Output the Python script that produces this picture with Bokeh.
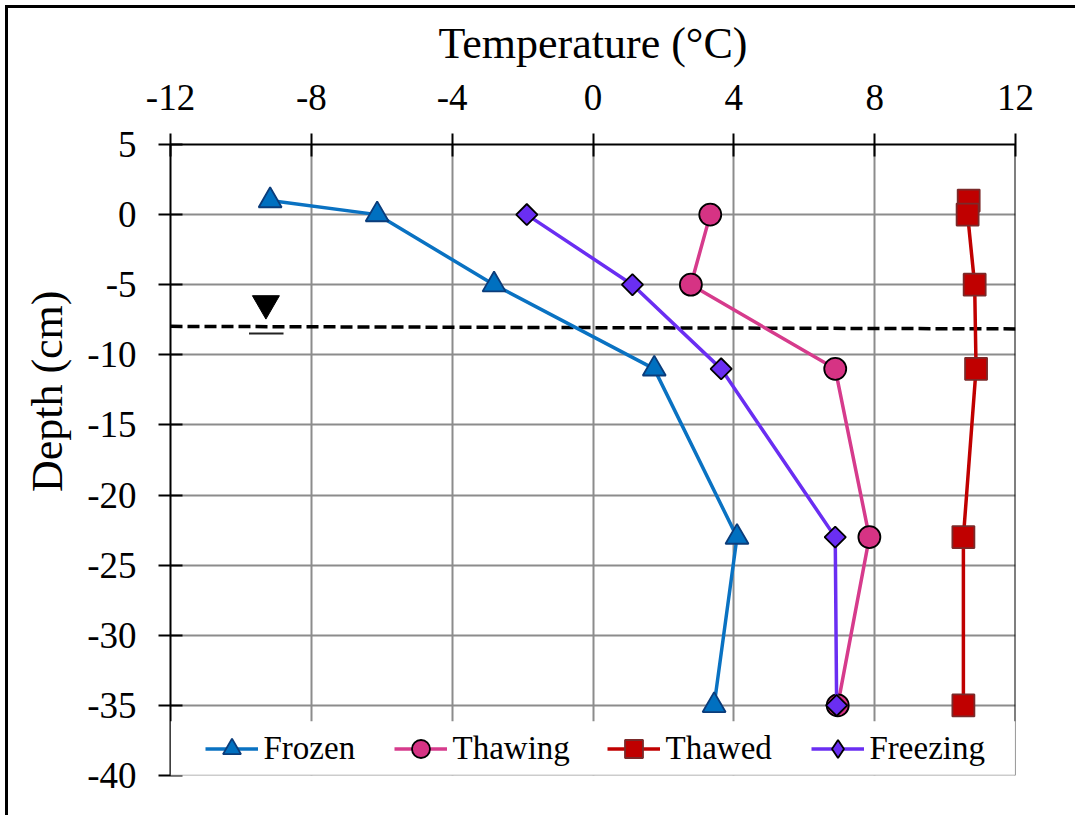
import math

from bokeh.embed import file_html
from bokeh.models import (BoxAnnotation, CustomJSTickFormatter, FixedTicker, Legend,
                          LegendItem, Range1d, Span, Title)
from bokeh.plotting import figure
from bokeh.resources import INLINE

# Soil temperature profiles: temperature (°C) against depth (cm)
frozen_depth = [1, 0, -5, -11, -23, -35]
frozen_temp = [-9.17, -6.13, -2.81, 1.74, 4.09, 3.44]

thawing_depth = [0, -5, -11, -23, -35]
thawing_temp = [3.33, 2.78, 6.88, 7.85, 6.95]

thawed_depth = [1, 0, -5, -11, -23, -35]
thawed_temp = [10.67, 10.64, 10.84, 10.88, 10.52, 10.52]

freezing_depth = [0, -5, -11, -23, -35]
freezing_temp = [-1.88, 1.12, 3.64, 6.88, 6.92]

# Water table level and its symbol
water_table_temp = [-12, 12]
water_table_depth = [-7.97, -8.15]
wt_symbol_temp = [-9.29]
wt_symbol_depth = [-6.34]
wt_bar_temp = [-9.77, -8.79]
wt_bar_depth = [-8.48, -8.48]

x_ticks = [-12, -8, -4, 0, 4, 8, 12]
y_ticks = [5, 0, -5, -10, -15, -20, -25, -30, -35, -40]

FONT = "Liberation Serif"

p = figure(
    width=1070, height=810,
    output_backend="svg", toolbar_location=None,
    x_range=Range1d(-12, 12), y_range=Range1d(-40, 5),
    x_axis_location="above",
    min_border_left=162, min_border_right=63,
    min_border_top=136, min_border_bottom=43,
    margin=(5, 0, 0, 5),
    styles={"border-top": "3px solid black", "border-left": "3px solid black"},
)
p.outline_line_color = None
p.background_fill_color = "white"
p.border_fill_color = "white"

# axes (plain hyphen for negative numbers)
plain = CustomJSTickFormatter(code="return tick.toString();")
xa = p.xaxis[0]
xa.ticker = FixedTicker(ticks=x_ticks)
xa.formatter = plain
xa.axis_label = "Temperature (°C)"
ya = p.yaxis[0]
ya.ticker = FixedTicker(ticks=y_ticks)
ya.formatter = plain

for ax in (xa, ya):
    ax.axis_line_color = "black"
    ax.axis_line_width = 2
    ax.major_tick_line_color = "black"
    ax.major_tick_line_width = 2
    ax.minor_tick_line_color = None
    ax.major_label_text_font = FONT
    ax.major_label_text_font_size = "37px"
    ax.major_label_text_color = "black"
    ax.axis_label_text_font = FONT
    ax.axis_label_text_font_size = "44px"
    ax.axis_label_text_font_style = "normal"
    ax.axis_label_text_color = "black"

xa.major_tick_out = 11
xa.major_tick_in = 12
xa.major_label_standoff = 24
xa.axis_label_standoff = 14
ya.major_tick_out = 12
ya.major_tick_in = 12
ya.major_label_standoff = 22

# vertical axis title, placed in the left panel
p.add_layout(Title(text="Depth (cm)", align="right", offset=146, vertical_align="middle",
                   standoff=24, text_font=FONT, text_font_size="44px",
                   text_font_style="normal", text_color="black"), "left")

p.xgrid.ticker = xa.ticker
p.ygrid.ticker = ya.ticker
for g in (p.xgrid, p.ygrid):
    g.grid_line_color = "#8c8c8c"
    g.grid_line_width = 2

# water table
p.line(water_table_temp, water_table_depth, line_color="black", line_width=3.5, line_dash="12 5")
p.scatter(wt_symbol_temp, wt_symbol_depth, marker="inverted_triangle", size=27,
          fill_color="black", line_color="black", line_width=1)
p.line(wt_bar_temp, wt_bar_depth, line_color="#222222", line_width=2)

# series
frozen_line = p.line(frozen_temp, frozen_depth, line_color="#0A72C2", line_width=3.5)
frozen_pts = p.scatter(frozen_temp, frozen_depth, marker="triangle", size=23,
                       fill_color="#0070C0", line_color="#0B3C7A", line_width=1.8)

thawing_line = p.line(thawing_temp, thawing_depth, line_color="#D63B8C", line_width=3.5)
thawing_pts = p.scatter(thawing_temp, thawing_depth, marker="circle", size=22,
                        fill_color="#D63384", line_color="black", line_width=1.8)

thawed_line = p.line(thawed_temp, thawed_depth, line_color="#C00000", line_width=3.5)
thawed_pts = p.scatter(thawed_temp, thawed_depth, marker="square", size=22,
                       fill_color="#C00000", line_color="#7A2A2A", line_width=1.8)

freezing_line = p.line(freezing_temp, freezing_depth, line_color="#6A2EF2", line_width=3.5)
freezing_pts = p.scatter(freezing_temp, freezing_depth, marker="square", size=15,
                         angle=math.pi / 4, fill_color="#6A2EF2", line_color="black",
                         line_width=1.8)
# diamond sample used only by the legend entry
freezing_key = p.scatter(freezing_temp, freezing_depth, marker="diamond", size=22,
                         fill_color="#6A2EF2", line_color="black", line_width=1.8,
                         visible=False)

# right border of the plot area
p.add_layout(Span(location=12, dimension="height", line_color="black", line_width=2))

# legend panel at the bottom of the plot area
p.add_layout(BoxAnnotation(left=-12, right=12, bottom=-40, top=-36.14,
                           fill_color="white", fill_alpha=1, line_color=None))
p.add_layout(BoxAnnotation(left=12, right=12, bottom=-40, top=-36.14,
                           fill_alpha=0, line_color="#9a9a9a", line_width=1.5))
p.add_layout(Span(location=-40, dimension="width", line_color="#9a9a9a", line_width=1.5))

legend_entries = [
    ("Frozen", [frozen_line, frozen_pts], 34.5),
    ("Thawing", [thawing_line, thawing_pts], 223.5),
    ("Thawed", [thawed_line, thawed_pts], 436.5),
    ("Freezing", [freezing_line, freezing_key], 640.5),
]
for label, rends, x_off in legend_entries:
    leg = Legend(
        items=[LegendItem(label=label, renderers=rends)],
        location=(x_off, 4.5), orientation="horizontal",
        glyph_width=53, glyph_height=45, label_standoff=6,
        padding=0, margin=0, spacing=0,
        border_line_color=None, background_fill_alpha=0,
        label_text_font=FONT, label_text_font_size="33px", label_text_color="black",
    )
    p.add_layout(leg, "center")

open("out.html", "w").write(file_html(p, INLINE))
